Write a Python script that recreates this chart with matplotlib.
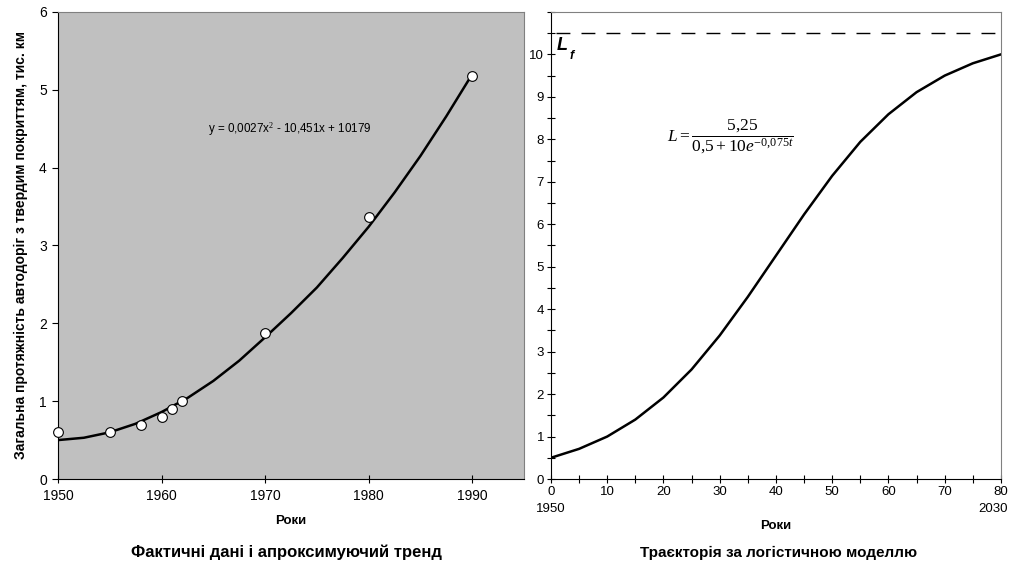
import numpy as np
import matplotlib
matplotlib.use('Agg')
import matplotlib.pyplot as plt

# Fonts close to the Arial / Times look of the original
plt.rcParams['font.family'] = ['Liberation Sans', 'DejaVu Sans']
plt.rcParams['mathtext.fontset'] = 'custom'
plt.rcParams['mathtext.rm'] = 'Liberation Serif'
plt.rcParams['mathtext.it'] = 'Liberation Serif:italic'

# --- Left panel: actual data and trend ---
years = [1950, 1955, 1958, 1960, 1961, 1962, 1970, 1980, 1990]
length = [0.6, 0.6, 0.7, 0.8, 0.9, 1.0, 1.87, 3.37, 5.18]

trend_years = [1950, 1952.5, 1955, 1957.5, 1960, 1962.5, 1965, 1967.5, 1970,
               1972.5, 1975, 1977.5, 1980, 1982.5, 1985, 1987.5, 1990]
trend_vals = [0.5, 0.53, 0.6, 0.71, 0.86, 1.04, 1.26, 1.52, 1.82,
              2.13, 2.46, 2.84, 3.24, 3.68, 4.15, 4.66, 5.2]

# --- Right panel: logistic trajectory ---
t_vals = [0, 5, 10, 15, 20, 25, 30, 35, 40, 45, 50, 55, 60, 65, 70, 75, 80]
L_vals = [0.5, 0.71, 1.0, 1.4, 1.92, 2.58, 3.38, 4.29, 5.26, 6.23, 7.14,
          7.94, 8.59, 9.11, 9.5, 9.79, 10.0]
L_limit = 10.5

fig = plt.figure(figsize=(10.1, 5.71), dpi=100)

ax1 = fig.add_axes([0.0574, 0.1611, 0.4614, 0.818])
ax1.set_facecolor('#c0c0c0')
ax1.plot(trend_years, trend_vals, color='black', lw=1.8, zorder=2)
ax1.plot(years, length, 'o', ms=7, mfc='white', mec='black', mew=0.8, zorder=3, clip_on=False)
ax1.set_xlim(1950, 1995)
ax1.set_ylim(0, 6)
ax1.set_xticks([1950, 1960, 1970, 1980, 1990])
ax1.set_yticks(range(7))
ax1.tick_params(axis='x', direction='inout', length=6, width=0.8, labelsize=10, pad=4)
ax1.tick_params(axis='y', direction='out', length=4, width=0.8, labelsize=10, pad=4)
for s in ['top', 'right']:
    ax1.spines[s].set_color('#808080')
for s in ['left', 'bottom']:
    ax1.spines[s].set_color('black')
ax1.text(1972.4, 4.5, r'y = 0,0027x$^{2}$ - 10,451x + 10179', fontsize=8.4,
         ha='center', va='center')
ax1.set_xlabel('Роки', fontsize=9.5, fontweight='bold', labelpad=9)
ax1.set_ylabel('Загальна протяжність автодоріг з твердим покриттям, тис. км',
               fontsize=10, fontweight='bold', labelpad=8)
fig.text(0.2836, 0.032, 'Фактичні дані і апроксимуючий тренд', fontsize=12,
         fontweight='bold', ha='center', va='center')

ax2 = fig.add_axes([0.5455, 0.1611, 0.4455, 0.818])
ax2.plot(t_vals, L_vals, color='black', lw=1.8)
ax2.axhline(L_limit, xmin=0.012, color='black', lw=1, dashes=(10, 8))
ax2.set_xlim(0, 80)
ax2.set_ylim(0, 11)
ax2.set_xticks(range(0, 81, 10))
ax2.set_xticks(range(0, 81, 5), minor=True)
ax2.set_yticks(range(0, 11))
ax2.set_yticks(np.arange(0, 11.01, 0.5), minor=True)
ax2.tick_params(which='both', direction='inout', length=6, width=0.8, labelsize=9.5, pad=2)
for s in ['top', 'right']:
    ax2.spines[s].set_color('#808080')
for s in ['left', 'bottom']:
    ax2.spines[s].set_color('black')
ax2.text(0, -0.7, '1950', fontsize=9.5, ha='center', va='center')
ax2.text(81.2, -0.7, '2030', fontsize=9.5, ha='right', va='center')
ax2.set_xlabel('Роки', fontsize=9.5, fontweight='bold', labelpad=16)
ax2.text(1.0, 10.4, 'L', fontsize=13, fontweight='bold', fontstyle='italic',
         ha='left', va='top')
ax2.text(3.3, 10.1, 'f', fontsize=9, fontweight='bold', fontstyle='italic',
         ha='left', va='top')
ax2.text(32.0, 8.05, r'$L = \dfrac{5{,}25}{0{,}5+10e^{-0{,}075t}}$', fontsize=12.5,
         ha='center', va='center')
fig.text(0.7713, 0.032, 'Траєкторія за логістичною моделлю', fontsize=11,
         fontweight='bold', ha='center', va='center')

fig.savefig('out.png', dpi=100)
